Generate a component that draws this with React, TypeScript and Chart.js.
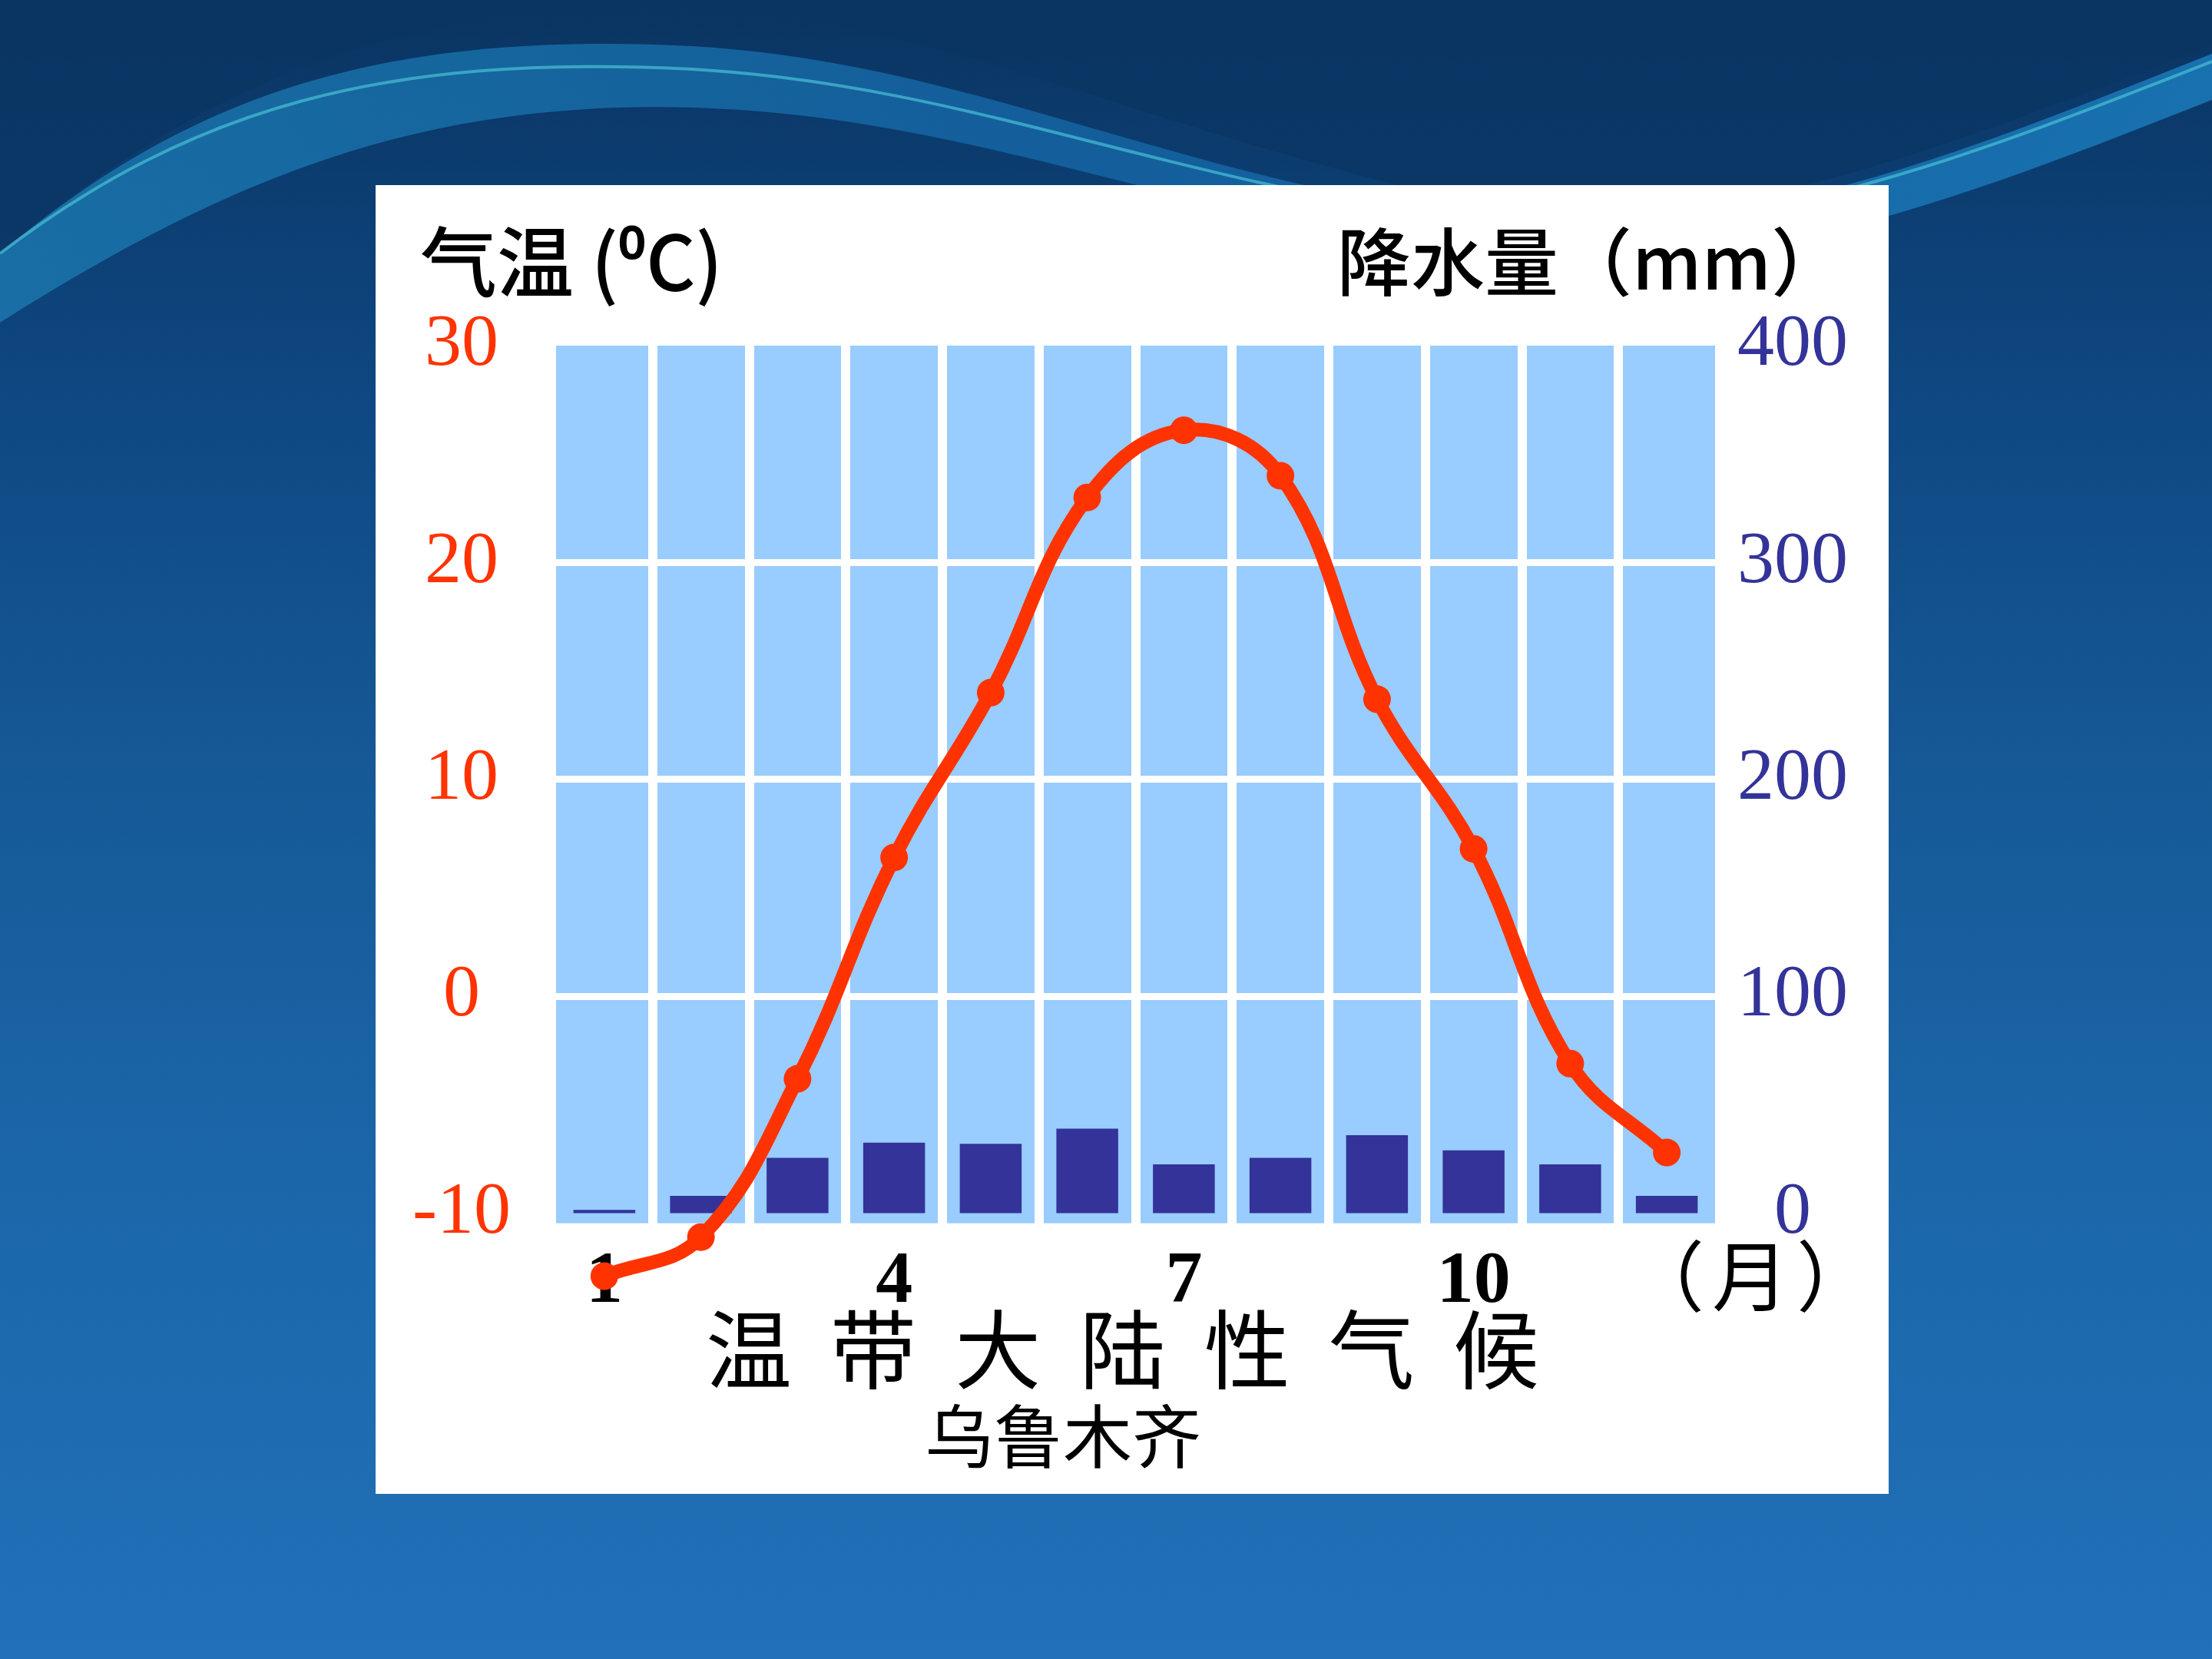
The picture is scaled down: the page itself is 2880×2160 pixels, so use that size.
import { useEffect, useRef } from 'react';
import { Chart, registerables } from 'chart.js';

Chart.register(...registerables);

// ---- data ----
const months = ['1', '2', '3', '4', '5', '6', '7', '8', '9', '10', '11', '12'];
const shownMonths = ['1', '4', '7', '10'];
const temperature = [-12.9, -11.1, -3.8, 6.4, 14.0, 23.0, 26.1, 24.0, 13.7, 6.8, -3.1, -7.2];
const precipitation = [1.5, 8, 25.5, 32.5, 32, 39, 22.5, 25.5, 36, 29, 22.5, 8];
const tempTicks = [-10, 0, 10, 20, 30];
const precipTicks = [0, 100, 200, 300, 400];
const tempRange = [-10.46, 30];
const precipRange = [-4.6, 400];

const chartTitle = '温  带  大  陆  性  气  候 ';
const chartSubtitle = '乌鲁木齐　　';
const tempAxisTitle = '气温 (⁰C)';
const precipAxisTitle = '降水量（mm）';
const monthUnit = '（月）';

// ---- styles ----
const RED = '#FF3300';
const NAVY = '#333399';
const PLOT_BG = '#99CCFF';
const CJK = '"Noto Sans CJK SC", "Noto Sans", sans-serif';
const SERIF = '"Liberation Serif", "DejaVu Serif", serif';
const CLEAR = 'rgba(0,0,0,0)';

const plotBackground = {
  id: 'plotBackground',
  beforeDraw(chart: any) {
    const { ctx, chartArea: a } = chart;
    ctx.save();
    ctx.fillStyle = PLOT_BG;
    ctx.fillRect(a.left, a.top, a.right - a.left, a.bottom - a.top);
    ctx.restore();
  },
};

function ClimateChart() {
  const ref = useRef<HTMLCanvasElement | null>(null);
  useEffect(() => {
    if (!ref.current) return;
    const chart = new Chart(ref.current, {
      type: 'bar',
      data: {
        labels: months,
        datasets: [
          {
            type: 'line',
            label: '气温',
            data: temperature,
            yAxisID: 'y',
            order: 0,
            borderColor: RED,
            backgroundColor: RED,
            borderWidth: 18,
            pointRadius: 18,
            pointHoverRadius: 90,
            pointBorderWidth: 0,
            pointBackgroundColor: RED,
            tension: 0.4,
            capBezierPoints: false,
            clip: false,
          } as any,
          {
            type: 'bar',
            label: '降水量',
            data: precipitation,
            yAxisID: 'y1',
            order: 1,
            backgroundColor: NAVY,
            borderWidth: 0,
            barPercentage: 0.64,
            categoryPercentage: 1,
          },
        ],
      },
      options: {
        responsive: false,
        animation: false,
        events: [],
        layout: { padding: { top: 209, bottom: 21, left: 0, right: 0 } },
        plugins: {
          legend: { display: false },
          tooltip: { enabled: false },
          title: {
            display: true,
            position: 'bottom',
            text: chartTitle,
            color: '#000',
            font: { family: CJK, size: 112, weight: 'normal' },
            padding: { top: -52, bottom: 0 },
            weight: 1000,
          } as any,
          subtitle: {
            display: true,
            position: 'bottom',
            text: chartSubtitle,
            color: '#000',
            font: { family: CJK, size: 90, weight: 'normal' },
            padding: { top: -9, bottom: 0 },
            weight: 1500,
          } as any,
        },
        scales: {
          x: {
            type: 'category',
            offset: true,
            border: { display: false },
            grid: {
              offset: true,
              drawTicks: false,
              lineWidth: 12,
              color: (c: any) => (c.index === undefined || c.index === 0 ? CLEAR : '#ffffff'),
            },
            ticks: {
              autoSkip: false,
              maxRotation: 0,
              padding: 20,
              color: '#000',
              font: { family: SERIF, size: 96, weight: 'bold' },
              callback: (_v: any, i: number) => (shownMonths.includes(months[i]) ? months[i] : ''),
            },
            afterFit: (s: any) => {
              s.height = 150;
            },
          },
          y: {
            type: 'linear',
            position: 'left',
            min: tempRange[0],
            max: tempRange[1],
            border: { display: false },
            grid: {
              drawTicks: false,
              lineWidth: 9,
              color: (c: any) =>
                c.tick && (c.tick.value === tempTicks[0] || c.tick.value === tempTicks[tempTicks.length - 1])
                  ? CLEAR
                  : '#ffffff',
            },
            afterBuildTicks: (s: any) => {
              s.ticks = tempTicks.map((v) => ({ value: v }));
            },
            ticks: {
              crossAlign: 'center',
              padding: 59,
              color: RED,
              font: { family: SERIF, size: 96 },
            },
            afterFit: (s: any) => {
              s.width = 235;
            },
          },
          y1: {
            type: 'linear',
            position: 'right',
            min: precipRange[0],
            max: precipRange[1],
            border: { display: false },
            grid: { display: false, drawTicks: false },
            afterBuildTicks: (s: any) => {
              s.ticks = precipTicks.map((v) => ({ value: v }));
            },
            ticks: {
              crossAlign: 'center',
              padding: 29,
              color: NAVY,
              font: { family: SERIF, size: 96 },
            },
            afterFit: (s: any) => {
              s.width = 226;
            },
          },
        },
      },
      plugins: [plotBackground],
    } as any);
    return () => chart.destroy();
  }, []);
  return <canvas ref={ref} width={1970} height={1704} style={{ position: 'absolute', left: 0, top: 0, width: 1970, height: 1704 }} />;
}

export default function App() {
  const label = (fontSize: number): React.CSSProperties => ({
    position: 'absolute',
    fontFamily: CJK,
    fontSize,
    lineHeight: `${fontSize}px`,
    color: '#000',
    whiteSpace: 'nowrap',
  });
  return (
    <div
      style={{
        position: 'fixed',
        left: 0,
        top: 0,
        width: 2880,
        height: 2160,
        overflow: 'hidden',
        background: 'linear-gradient(180deg, #0a3461 0%, #0e4680 22%, #155895 45%, #1b66a9 70%, #2170b8 100%)',
      }}
    >
      <svg width={2880} height={2160} style={{ position: 'absolute', left: 0, top: 0 }}>
        <defs>
          <linearGradient id="wave" x1="0" y1="0" x2="1" y2="0">
            <stop offset="0" stopColor="#1b79b0" />
            <stop offset="0.5" stopColor="#1566a6" />
            <stop offset="1" stopColor="#1c7fc0" />
          </linearGradient>
        </defs>
        <path d="M0,0 L2880,0 L2880,60 C2500,200 2200,330 1900,260 C1500,170 1200,20 900,10 C500,0 250,120 0,330 Z" fill="#0b3563" opacity="0.75" />
        <path d="M0,330 C250,120 500,40 900,60 C1250,80 1500,220 1900,280 C2250,330 2550,200 2880,70 L2880,130 C2550,260 2250,380 1900,330 C1500,270 1250,150 900,140 C550,130 300,230 0,420 Z" fill="url(#wave)" opacity="0.8" />
        <path d="M0,330 C250,140 500,70 900,90 C1250,110 1500,230 1900,285 C2250,330 2550,210 2880,80" stroke="#49c1d6" strokeWidth="4" fill="none" opacity="0.7" />
      </svg>
      <div style={{ position: 'absolute', left: 489, top: 241, width: 1970, height: 1704, background: '#ffffff' }}>
        <ClimateChart />
        <div style={{ ...label(100), left: 58, top: 45, fontWeight: 500 }}>{tempAxisTitle}</div>
        <div style={{ ...label(96), left: 1252, top: 47, fontWeight: 500 }}>{precipAxisTitle}</div>
        <div style={{ ...label(100), left: 1630, top: 1365, letterSpacing: 10 }}>{monthUnit}</div>
      </div>
    </div>
  );
}
